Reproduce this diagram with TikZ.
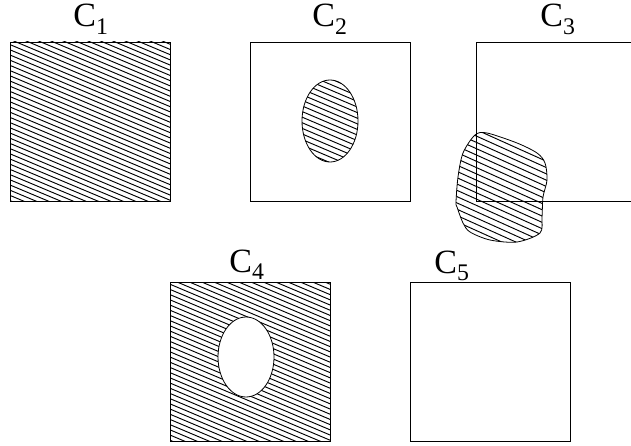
\documentclass[tikz,border=0pt]{standalone}
\usepackage{fontspec}
\setmainfont{Liberation Serif}
\begin{document}
\begin{tikzpicture}[x=1pt,y=-1pt,
  box/.style={line width=0.8pt},
  hatchline/.style={line width=0.95pt},
  setlabel/.style={anchor=base,inner sep=0pt,font=\fontsize{34}{36}\selectfont}]
  \clip (0,0) rectangle (631,446);
  % C1: the whole square is shaded
  \begin{scope}
    \clip (10,42) rectangle (170,201);
    \foreach \c in {-100,-94.8,...,250}
      \draw[hatchline] (0,\c) -- (200,\c+84);
  \end{scope}
  \draw[box] (10,42) rectangle (170,201);
  \node[setlabel] (lab1) at (91,27) {C\textsubscript{1}};
  % C2: a shaded oval inside the square
  \begin{scope}
    \clip (330,121) ellipse [x radius=28,y radius=41];
    \foreach \c in {0,5.6,...,200}
      \draw[hatchline] (290,\c) -- (370,\c+34);
  \end{scope}
  \draw[box] (330,121) ellipse [x radius=28,y radius=41];
  \draw[box] (250,42) rectangle (410,201);
  \node[setlabel] (lab2) at (330,27) {C\textsubscript{2}};
  % C3: a shaded blob across the lower left corner
  \begin{scope}
    \clip plot[smooth cycle] coordinates {(475,135) (487,133) (517,143)
      (537,153) (545,163) (547,180) (543,197) (542,217) (540,233)
      (517,242) (490,240) (470,232) (463,223) (457,207) (456,202)
      (458,177) (463,153)};
    \foreach \c in {0,6.3,...,300}
      \draw[hatchline] (440,\c) -- (560,\c+54);
  \end{scope}
  \draw[box] plot[smooth cycle] coordinates {(475,135) (487,133) (517,143)
    (537,153) (545,163) (547,180) (543,197) (542,217) (540,233)
    (517,242) (490,240) (470,232) (463,223) (457,207) (456,202)
    (458,177) (463,153)};
  \draw[box] (476,42) rectangle (636,201);
  \node[setlabel] (lab3) at (558,27) {C\textsubscript{3}};
  % C4: shaded square with an empty hole
  \begin{scope}
    \clip (170,282) rectangle (330,441);
    \foreach \c in {150,155.2,...,500}
      \draw[hatchline] (160,\c) -- (340,\c+76);
  \end{scope}
  \draw[box,fill=white] (246,357) ellipse [x radius=28,y radius=40];
  \draw[box] (170,282) rectangle (330,441);
  \node[setlabel] (lab4) at (247,272) {C\textsubscript{4}};
  % C5: empty square
  \draw[box] (410,282) rectangle (570,441);
  \node[setlabel] (lab5) at (452,273) {C\textsubscript{5}};
\end{tikzpicture}
\end{document}
